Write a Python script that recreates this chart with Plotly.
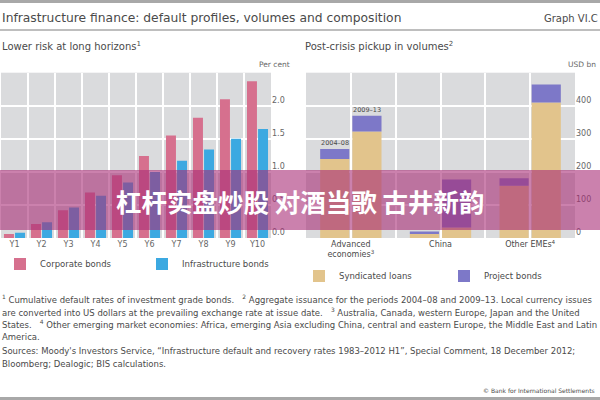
import plotly.graph_objects as go

# ---------------- data ----------------
years = ["Y1", "Y2", "Y3", "Y4", "Y5", "Y6", "Y7", "Y8", "Y9", "Y10"]
corporate_bonds = [0.06, 0.21, 0.42, 0.69, 0.95, 1.24, 1.55, 1.82, 2.10, 2.37]
infrastructure_bonds = [0.08, 0.24, 0.46, 0.64, 0.84, 1.00, 1.17, 1.34, 1.50, 1.65]
left_ticks = [0, 0.5, 1.0, 1.5, 2.0]

regions = ["Advanced<br>economies<sup>3</sup>", "China", "Other EMEs<sup>4</sup>"]
periods = ["2004–08", "2009–13"]
syndicated_2004_08 = [239, 12, 158]
project_2004_08 = [30, 8, 23]
syndicated_2009_13 = [322, 32, 410]
project_2009_13 = [48, 145, 54]
right_ticks = [0, 100, 200, 300, 400]

# ---------------- style ----------------
W, H = 600, 400
FONT = "DejaVu Sans"
C_CORP = "#d6708e"
C_INFRA = "#3ca9e1"
C_SYND = "#e2c48c"
C_PROJ = "#7d78c8"
BG = "#dadbdd"
TXT = "#4a4a4a"
TICK = "#666666"


def py(p):  # pixel row -> paper y
    return 1 - p / H


def px(p):
    return p / W


fig = go.Figure()

xl = list(range(len(years)))
fig.add_trace(go.Bar(x=xl, y=corporate_bonds, name="Corporate bonds",
                     marker=dict(color=C_CORP, line_width=0),
                     xaxis="x", yaxis="y", legend="legend"))
fig.add_trace(go.Bar(x=xl, y=infrastructure_bonds, name="Infrastructure bonds",
                     marker=dict(color=C_INFRA, line_width=0),
                     xaxis="x", yaxis="y", legend="legend2"))

xr = list(range(len(regions)))
BW = 0.325
offs = [-0.342, 0.017]
fig.add_trace(go.Bar(x=xr, y=syndicated_2004_08, name="Syndicated loans",
                     width=BW, offset=offs[0],
                     marker=dict(color=C_SYND, line_width=0),
                     xaxis="x2", yaxis="y2", legend="legend3", legendgroup="s"))
fig.add_trace(go.Bar(x=xr, y=project_2004_08, base=syndicated_2004_08, name="Project bonds",
                     width=BW, offset=offs[0],
                     marker=dict(color=C_PROJ, line_width=0),
                     xaxis="x2", yaxis="y2", legend="legend4", legendgroup="p"))
fig.add_trace(go.Bar(x=xr, y=syndicated_2009_13, name="Syndicated loans",
                     width=BW, offset=offs[1], showlegend=False,
                     marker=dict(color=C_SYND, line_width=0),
                     xaxis="x2", yaxis="y2", legend="legend3", legendgroup="s"))
fig.add_trace(go.Bar(x=xr, y=project_2009_13, base=syndicated_2009_13, name="Project bonds",
                     width=BW, offset=offs[1], showlegend=False,
                     marker=dict(color=C_PROJ, line_width=0),
                     xaxis="x2", yaxis="y2", legend="legend4", legendgroup="p"))

# period labels above the advanced-economy bars
tot0408 = [s + p for s, p in zip(syndicated_2004_08, project_2004_08)]
tot0913 = [s + p for s, p in zip(syndicated_2009_13, project_2009_13)]
for k, (tot, period) in enumerate([(tot0408, periods[0]), (tot0913, periods[1])]):
    fig.add_annotation(x=xr[0] + offs[k] + BW / 2, y=tot[0], xref="x2", yref="y2",
                       text=period, showarrow=False, yanchor="bottom", yshift=0,
                       font=dict(family=FONT, size=6.5, color=TXT))

axis_common = dict(showline=False, zeroline=False, ticks="", fixedrange=True)

fig.update_layout(
    width=W, height=H, margin=dict(l=0, r=0, t=0, b=0),
    paper_bgcolor="white", plot_bgcolor=BG, showlegend=True,
    barmode="group", bargap=0.18, bargroupgap=0.1,
    font=dict(family=FONT, color=TXT),
    xaxis=dict(domain=[px(1), px(271)], range=[-0.5, len(years) - 0.5], anchor="y",
               tickvals=xl, ticktext=years, showgrid=False,
               minor=dict(tickvals=[i + 0.5 for i in xl[:-1]], showgrid=True,
                          gridcolor="white", gridwidth=1.5, ticks=""),
               tickfont=dict(family=FONT, size=8, color=TICK), **axis_common),
    yaxis=dict(domain=[py(238), py(72.7)], range=[0, 2.5], anchor="x", side="right",
               tickvals=left_ticks, tickformat=".1f", showgrid=True,
               gridcolor="white", gridwidth=1.5, ticklabelposition="outside top",
               tickfont=dict(family=FONT, size=8, color=TICK), **axis_common),
    xaxis2=dict(domain=[px(306), px(575)], range=[-0.5, len(regions) - 0.5], anchor="y2",
                tickvals=xr, ticktext=regions, showgrid=True,
                gridcolor="white", gridwidth=1.5,
                minor=dict(tickvals=[i + 0.5 for i in xr[:-1]], showgrid=True,
                           gridcolor="white", gridwidth=1.5, ticks=""),
                tickfont=dict(family=FONT, size=8, color=TXT), **axis_common),
    yaxis2=dict(domain=[py(238), py(72.7)], range=[0, 500], anchor="x2", side="right",
                tickvals=right_ticks, showgrid=True,
                gridcolor="white", gridwidth=1.5, ticklabelposition="outside top",
                tickfont=dict(family=FONT, size=8, color=TICK), **axis_common),
)

leg_common = dict(bgcolor="rgba(0,0,0,0)", borderwidth=0, orientation="h",
                  xanchor="left", yanchor="middle", visible=True,
                  font=dict(family=FONT, size=8.5, color=TXT))
fig.update_layout(
    legend=dict(x=0, y=py(264), **leg_common),
    legend2=dict(x=px(142), y=py(264), **leg_common),
    legend3=dict(x=px(299), y=py(276), **leg_common),
    legend4=dict(x=px(444), y=py(276), **leg_common),
)

# header / rules
shapes = [
    dict(type="rect", xref="paper", yref="paper", x0=0, x1=1, y0=py(3), y1=1,
         fillcolor="#a8a8a8", line_width=0),
    dict(type="line", xref="paper", yref="paper", x0=0, x1=1, y0=py(30), y1=py(30),
         line=dict(color="#a8a8a8", width=1.5)),
    dict(type="rect", xref="paper", yref="paper", x0=0, x1=1, y0=0, y1=py(397),
         fillcolor="#a8a8a8", line_width=0),
    # overlay banner
    dict(type="rect", xref="paper", yref="paper", x0=0, x1=1, y0=py(230), y1=py(170),
         fillcolor="rgba(168,45,118,0.6)", line_width=0, layer="above"),
]
fig.update_layout(shapes=shapes)


def text(x, y, s, size, anchor="left", color=TXT, family=FONT):
    fig.add_annotation(x=px(x), y=py(y), xref="paper", yref="paper", text=s,
                       showarrow=False, xanchor=anchor, yanchor="middle",
                       font=dict(family=family, size=size, color=color))


text(0, 18, "Infrastructure finance: default profiles, volumes and composition", 12.3)
text(600, 18, "Graph VI.C", 10, anchor="right")
text(0, 46, "Lower risk at long horizons<sup>1</sup>", 10)
text(303, 46, "Post-crisis pickup in volumes<sup>2</sup>", 10)
text(292, 65, "Per cent", 7.5, anchor="right", color=TICK)
text(598, 65, "USD bn", 7.5, anchor="right", color=TICK)

sp = "\u00a0\u00a0\u00a0"
foot = [
    (299, f"<sup>1</sup> Cumulative default rates of investment grade bonds.{sp}<sup>2</sup> Aggregate issuance for the periods 2004–08 and 2009–13. Local currency issues"),
    (311.5, f"are converted into US dollars at the prevailing exchange rate at issue date.{sp}<sup>3</sup> Australia, Canada, western Europe, Japan and the United"),
    (324, f"States.{sp}<sup>4</sup> Other emerging market economies: Africa, emerging Asia excluding China, central and eastern Europe, the Middle East and Latin"),
    (336.5, "America."),
    (351, "Sources: Moody's Investors Service, “Infrastructure default and recovery rates 1983–2012 H1”, Special Comment, 18 December 2012;"),
    (363.5, "Bloomberg; Dealogic; BIS calculations."),
]
for y, s in foot:
    text(0, y, s, 8.5)
text(597, 390, "© Bank for International Settlements", 6, anchor="right")

# banner text
fig.add_annotation(x=0.5, y=py(200), xref="paper", yref="paper",
                   text="<b>杠杆实盘炒股 对酒当歌 古井新韵</b>", showarrow=False,
                   xanchor="center", yanchor="middle",
                   font=dict(family="Noto Sans CJK SC", size=25.5, color="white"))

fig.write_html("out.html", config={"displayModeBar": False},
               post_script="document.body.style.margin='0';document.body.style.overflow='hidden';")
